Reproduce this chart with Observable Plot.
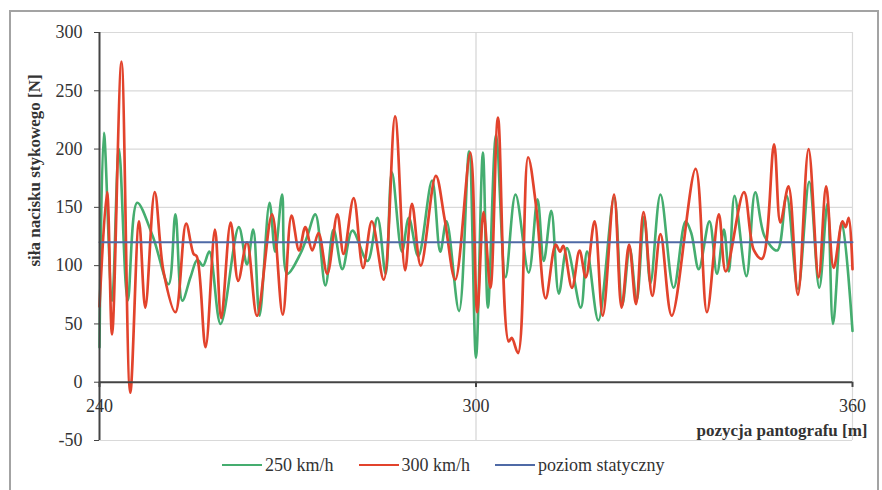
<!DOCTYPE html>
<html><head><meta charset="utf-8">
<script src="https://cdn.jsdelivr.net/npm/d3@7"></script>
<script src="https://cdn.jsdelivr.net/npm/@observablehq/plot@0.6"></script>
<style>
body{margin:0;background:#fff;font-family:"Liberation Serif",serif;}
#wrap{position:relative;width:882px;height:490px;overflow:hidden;background:#fff;}
#frame{position:absolute;left:9px;top:10px;width:870px;height:520px;border:2px solid #a3a3a3;box-sizing:border-box;}
#chart{position:absolute;left:0;top:0;}
#chart svg text{font-family:"Liberation Serif",serif;}
#legend{position:absolute;left:222px;top:452px;height:26px;display:flex;align-items:center;font-size:18px;color:#333;font-family:"Liberation Serif",serif;}
.item{display:flex;align-items:center;margin-right:25px;}
.sw{width:40px;height:0;border-top:2.5px solid;margin-right:3px;}
</style></head>
<body><div id="wrap"><div id="frame"></div><div id="chart"></div><div id="legend"></div></div>
<script>
const seriesNames = ["250 km/h", "300 km/h", "poziom statyczny"];
const seriesColors = ["#45ad6f", "#e2432c", "#4f6aa6"];

const redPos = [240.0,241.2,242.0,243.5,244.9,246.3,247.3,248.8,250.2,252.1,253.8,255.0,255.5,256.9,258.4,259.4,260.9,262.1,263.5,265.1,267.5,269.2,270.6,271.8,272.8,273.9,274.9,276.3,277.9,278.9,280.5,282.0,283.4,285.3,287.1,288.7,289.8,291.2,293.6,295.0,296.7,299.1,300.2,301.2,302.3,303.5,305.2,305.7,306.7,308.3,309.6,311.1,312.7,313.4,313.9,315.3,316.5,317.5,318.9,320.2,322.0,323.2,324.4,325.5,326.7,328.1,329.4,331.2,335.0,336.8,338.7,339.8,342.7,344.3,345.6,347.5,348.5,349.8,351.3,353.0,354.6,355.8,357.0,358.4,358.9,359.4,360.0];
const redVal = [65,163,41,275,-9,138,64,163,95,60,136,110,108,30,131,55,137,87,120,57,144,58,143,113,133,113,128,93,144,110,158,98,138,88,228,96,153,100,177,140,88,197,60,146,81,227,35,38,25,193,150,72,118,112,117,81,113,90,138,57,161,64,118,67,146,74,127,57,183,60,144,95,163,113,106,204,137,168,75,200,90,168,98,138,133,141,97];

const greenPos = [240.0,240.7,242.0,243.1,244.5,246.0,248.5,251.0,252.1,253.2,254.5,255.6,256.5,257.5,259.3,262.2,263.5,264.5,265.5,267.1,268.0,269.1,269.9,272.0,273.1,274.4,276.0,277.3,278.7,280.3,282.7,284.3,285.6,286.6,288.2,289.3,290.8,293.0,294.3,295.3,297.3,298.9,300.0,301.1,301.9,303.2,304.7,306.3,308.4,309.8,310.8,312.0,313.2,314.5,316.7,317.7,319.5,322.0,323.3,324.5,325.6,326.8,327.8,329.4,331.5,333.4,334.3,335.5,337.2,338.4,339.5,340.3,341.2,343.1,344.5,346.0,348.0,349.5,351.3,353.1,354.7,356.0,356.9,358.3,360.0];
const greenVal = [30,214,70,200,70,154,125,84,144,70,90,105,100,112,50,133,101,131,57,154,112,161,93,110,125,144,83,131,97,130,104,141,93,180,112,141,108,173,112,138,61,198,21,197,64,212,90,161,94,157,104,147,76,115,64,112,53,158,66,115,70,142,85,161,81,138,128,97,138,93,131,95,160,91,163,125,113,160,80,172,81,153,50,137,44];

const staticLevel = 120;
const xTicks = [240, 300, 360];
const yTicks = [-50, 0, 50, 100, 150, 200, 250, 300];
const gridY = [-50, 50, 100, 150, 200, 250, 300];
const xTitle = "pozycja pantografu [m]";
const yTitle = "siła nacisku stykowego [N]";

const red = redPos.map((x, i) => ({x, y: redVal[i]}));
const green = greenPos.map((x, i) => ({x, y: greenVal[i]}));
const stat = [{x: 240, y: staticLevel}, {x: 360, y: staticLevel}];
const FF = "Liberation Serif, serif";

const chart = Plot.plot({
  width: 882, height: 450,
  marginLeft: 99, marginRight: 30, marginTop: 32, marginBottom: 10,
  style: {fontFamily: FF, fontSize: "18px", color: "#333", background: "transparent"},
  x: {domain: [240, 360], axis: null},
  y: {domain: [-50, 300], axis: null},
  marks: [
    Plot.ruleY(gridY, {stroke: "#d9d9d9", strokeWidth: 1.2}),
    Plot.ruleX([300], {stroke: "#d4d4d4", strokeWidth: 1.2}),
    Plot.ruleX([360], {stroke: "#d9d9d9", strokeWidth: 1.2}),
    Plot.line(green, {x: "x", y: "y", stroke: seriesColors[0], strokeWidth: 2.6, curve: "catmull-rom"}),
    Plot.line(red, {x: "x", y: "y", stroke: seriesColors[1], strokeWidth: 2.7, curve: "catmull-rom"}),
    Plot.line(stat, {x: "x", y: "y", stroke: seriesColors[2], strokeWidth: 2}),
    Plot.ruleY([0], {stroke: "#444", strokeWidth: 2}),
    Plot.ruleX([240], {stroke: "#444", strokeWidth: 2}),
    Plot.axisY({ticks: yTicks, tickSize: 5, tickPadding: 12, label: null, stroke: "#444", tickFormat: d => d, fill: "#333", fontFamily: FF, fontSize: 18}),
    Plot.ruleX(xTicks, {y1: 0, y2: -4.5, stroke: "#444", strokeWidth: 2}),
    Plot.text(xTicks, {x: d => d, y: 0, dy: 24, text: d => String(d), fill: "#333", fontSize: 18, fontFamily: FF}),
    Plot.text([yTitle], {frameAnchor: "left", textAnchor: "middle", rotate: -90, dx: -65, dy: -66, fontWeight: "bold", fontSize: 17, fill: "#333", fontFamily: FF}),
    Plot.text([xTitle], {frameAnchor: "bottom-right", textAnchor: "end", lineAnchor: "middle", dx: 15, dy: -10, fontWeight: "bold", fontSize: 17, fill: "#333", fontFamily: FF})
  ]
});
document.getElementById("chart").appendChild(chart);

const legend = document.getElementById("legend");
seriesNames.forEach((n, i) => {
  const it = document.createElement("div"); it.className = "item";
  const sw = document.createElement("div"); sw.className = "sw"; sw.style.borderTopColor = seriesColors[i];
  const t = document.createElement("span"); t.textContent = n;
  it.appendChild(sw); it.appendChild(t); legend.appendChild(it);
});
</script></body></html>
